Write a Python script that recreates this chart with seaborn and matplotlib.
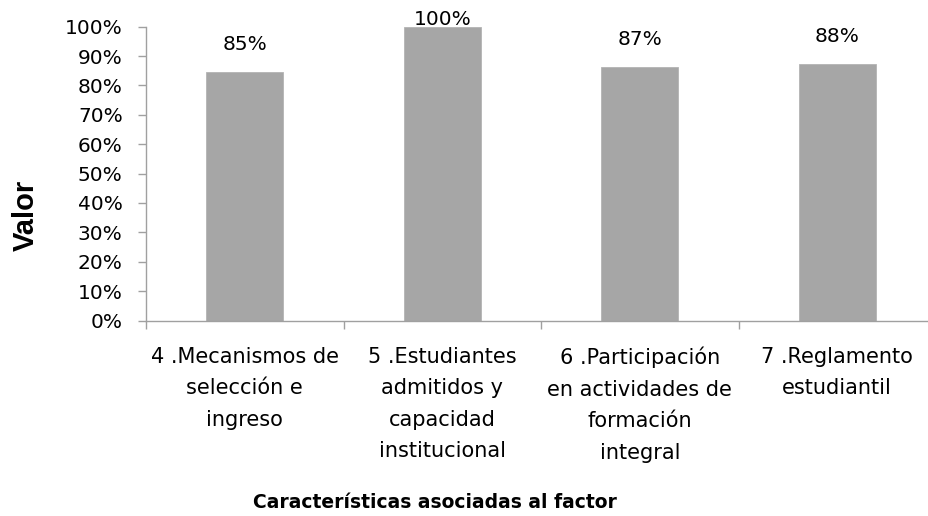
import matplotlib
matplotlib.use("Agg")
import matplotlib.pyplot as plt
import seaborn as sns
import pandas as pd
import numpy as np

categories = [
    "4 .Mecanismos de\nselección e\ningreso",
    "5 .Estudiantes\nadmitidos y\ncapacidad\ninstitucional",
    "6 .Participación\nen actividades de\nformación\nintegral",
    "7 .Reglamento\nestudiantil",
]
values = [0.847, 1.0, 0.864, 0.873]
value_labels = ["85%", "100%", "87%", "88%"]
y_ticks = [0.0, 0.1, 0.2, 0.3, 0.4, 0.5, 0.6, 0.7, 0.8, 0.9, 1.0]
y_tick_labels = ["0%", "10%", "20%", "30%", "40%", "50%", "60%", "70%", "80%", "90%", "100%"]
x_title = "Características asociadas al factor"
y_title = "Valor"

sns.set_theme(style="white")
plt.rcParams["font.family"] = ["DejaVu Sans"]

W, H = 929, 516
fig = plt.figure(figsize=(W / 100, H / 100), dpi=100)
ax = fig.add_axes([146 / W, 1 - 320.5 / H, 790 / W, 293.8 / H])

df = pd.DataFrame({"cat": categories, "val": values})
sns.barplot(data=df, x="cat", y="val", color="#A6A6A6", saturation=1,
            width=0.39, edgecolor="#B4B4B4", linewidth=0.6, ax=ax)

ax.set_xlim(-0.5, 3.5)
ax.set_ylim(0, 1)
for s in ["top", "right"]:
    ax.spines[s].set_visible(False)
for s in ["left", "bottom"]:
    ax.spines[s].set_color("#A0A0A0")
    ax.spines[s].set_linewidth(1.0)

axis_gray = "#A0A0A0"
ax.set_yticks(y_ticks)
ax.set_yticklabels(y_tick_labels, fontsize=14.5, color="#000000")
ax.tick_params(axis="y", direction="out", length=5.8, width=1.0, color=axis_gray,
               pad=11, left=True)

ax.set_xticks(range(len(categories)))
ax.set_xticklabels(categories, fontsize=15, color="#000000", linespacing=1.72)
ax.set_xticks(np.arange(-0.5, len(categories), 1.0), minor=True)
ax.tick_params(axis="x", which="major", length=0, pad=19)
ax.tick_params(axis="x", which="minor", direction="out", length=5.8, width=1.0,
               color=axis_gray, bottom=True)
ax.set_xlabel("")
ax.set_ylabel("")

for i, (v, lab) in enumerate(zip(values, value_labels)):
    ax.text(i, min(v + 0.092, 1.026), lab, ha="center", va="center",
            fontsize=14.5, color="#000000", clip_on=False)

fig.text(435 / W, 1 - 502 / H, x_title, ha="center", va="center",
         fontsize=13.5, fontweight="bold", color="#000000")
fig.text(26 / W, 1 - 215.5 / H, y_title, ha="center", va="center", rotation=90,
         fontsize=21, fontweight="bold", color="#000000",
         family=["Liberation Sans", "DejaVu Sans"])

fig.savefig("out.png", dpi=100)
